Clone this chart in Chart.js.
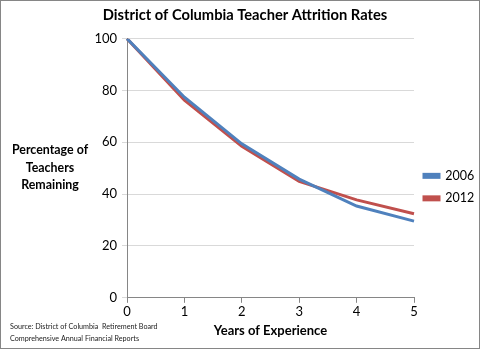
<!DOCTYPE html>
<html lang="en">
<head>
<meta charset="UTF-8">
<title>District of Columbia Teacher Attrition Rates</title>
<script src="https://cdn.jsdelivr.net/npm/chart.js"></script>
<style>
  html, body { margin: 0; padding: 0; background: #fff; }
  #wrap { width: 480px; height: 349px; position: relative; }
</style>
</head>
<body>
<div id="wrap">
  <canvas id="attritionChart" width="480" height="349"></canvas>
</div>
<script>
  // Years of experience and share of teachers still in the system
  const years = ['0', '1', '2', '3', '4', '5'];
  const remaining2006 = [100, 77.4, 59.4, 45.8, 35.4, 29.6];
  const remaining2012 = [100, 76.3, 58.5, 44.9, 37.8, 32.4];
  const yTicks = [0, 20, 40, 60, 80, 100];

  const FONT = 'Lato, "DejaVu Sans", sans-serif';

  // Frame, horizontal y-axis title and source note
  const extras = {
    id: 'extras',
    afterDraw(chart) {
      const c = chart.ctx;
      c.save();
      c.strokeStyle = '#868686';
      c.lineWidth = 1;
      c.strokeRect(0.5, 0.5, chart.width - 1, chart.height - 1);

      c.fillStyle = '#000';
      c.font = 'bold 12.4px ' + FONT;
      c.textAlign = 'center';
      c.textBaseline = 'middle';
      ['Percentage of', 'Teachers', 'Remaining'].forEach((t, i) => {
        c.fillText(t, 50, 150 + i * 17.5);
      });

      c.font = '7.2px ' + FONT;
      c.textAlign = 'left';
      c.fillStyle = '#222';
      c.fillText('Source: District of Columbia  Retirement Board', 10, 327);
      c.fillText('Comprehensive Annual Financial Reports', 10, 339);
      c.restore();
    }
  };

  new Chart(document.getElementById('attritionChart'), {
    type: 'line',
    data: {
      labels: years,
      datasets: [
        {
          label: '2006',
          data: remaining2006,
          borderColor: '#4f81bd',
          backgroundColor: '#4f81bd',
          borderWidth: 3,
          pointRadius: 0,
          tension: 0
        },
        {
          label: '2012',
          data: remaining2012,
          borderColor: '#c0504d',
          backgroundColor: '#c0504d',
          borderWidth: 3,
          pointRadius: 0,
          tension: 0
        }
      ]
    },
    options: {
      responsive: false,
      animation: false,
      layout: { padding: { left: 10, right: 0, top: 0, bottom: 10 } },
      plugins: {
        title: {
          display: true,
          text: 'District of Columbia Teacher Attrition Rates',
          color: '#000',
          font: { family: FONT, size: 14.7, weight: 'bold' },
          padding: { top: 6, bottom: 15 }
        },
        legend: {
          position: 'right',
          maxWidth: 66,
          title: {
            display: true,
            text: ' ',
            font: { size: 1 },
            padding: { top: 0, bottom: 34 }
          },
          labels: {
            color: '#000',
            font: { family: FONT, size: 12.5 },
            boxWidth: 15,
            boxHeight: 3,
            padding: 10
          }
        },
        tooltip: { enabled: false }
      },
      scales: {
        x: {
          offset: false,
          grid: {
            drawOnChartArea: false,
            drawTicks: true,
            tickLength: 5,
            color: '#868686'
          },
          border: { color: '#868686' },
          ticks: { color: '#000', font: { family: FONT, size: 13 }, padding: 1 },
          title: {
            display: true,
            text: 'Years of Experience',
            color: '#000',
            font: { family: FONT, size: 13, weight: 'bold' },
            padding: { top: 3, bottom: 0 }
          }
        },
        y: {
          min: 0,
          max: 100,
          afterFit(scale) { scale.width = 117; },
          afterBuildTicks(scale) { scale.ticks = yTicks.map(v => ({ value: v })); },
          grid: { color: '#d9d9d9', tickLength: 5 },
          border: { color: '#868686' },
          ticks: { color: '#000', font: { family: FONT, size: 13 }, padding: 5 }
        }
      }
    },
    plugins: [extras]
  });
</script>
</body>
</html>
